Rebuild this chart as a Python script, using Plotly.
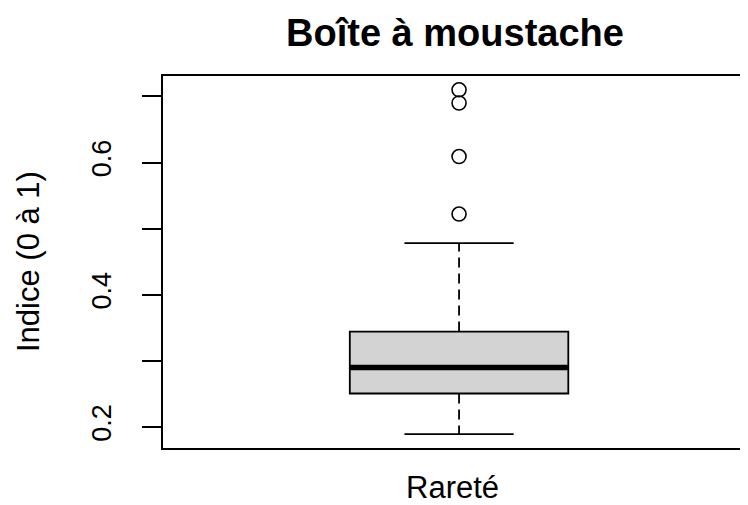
import plotly.graph_objects as go

# ---- data ----
category = "Rareté"
lower_whisker = 0.189
q1 = 0.2506
median = 0.290
q3 = 0.3443
upper_whisker = 0.478
outliers = [0.522, 0.609, 0.690, 0.710]

y_tick_values = [0.2, 0.3, 0.4, 0.5, 0.6, 0.7]
y_tick_labels = ["0.2", "", "0.4", "", "0.6", ""]

title_text = "Boîte à moustache"
y_title = "Indice (0 à 1)"

# ---- styling / layout constants ----
FONT = "Liberation Sans, Arial, sans-serif"
BOX_W = 0.369          # box width in x units (R-like)
CAP_W = BOX_W / 2      # staple width
XPOS = 1
LW = 1.8
OFF = 8                # default page body margin in the browser
W, H = 748 - OFF, 505 - OFF
ML, MT = 163 - OFF, 76 - OFF
MB = H - (448 - OFF)
MR = 0

all_vals = [lower_whisker, upper_whisker] + outliers
ymin, ymax = min(all_vals), max(all_vals)
pad = 0.04 * (ymax - ymin)
yrange = [ymin - pad, ymax + pad]

fig = go.Figure()

# box body
fig.add_trace(go.Box(
    x=[XPOS], q1=[q1], median=[median], q3=[q3],
    lowerfence=[q1], upperfence=[q3],
    width=BOX_W, fillcolor="#D3D3D3",
    line=dict(color="black", width=LW),
    whiskerwidth=0, boxpoints=False, showlegend=False, hoverinfo="skip",
))

# thick median
fig.add_trace(go.Scatter(
    x=[XPOS - BOX_W / 2, XPOS + BOX_W / 2], y=[median, median],
    mode="lines", line=dict(color="black", width=5.5),
    showlegend=False, hoverinfo="skip",
))

# dashed whiskers
for a, b in [(q3, upper_whisker), (q1, lower_whisker)]:
    fig.add_trace(go.Scatter(
        x=[XPOS, XPOS], y=[a, b], mode="lines",
        line=dict(color="black", width=LW, dash="10px,6px"),
        showlegend=False, hoverinfo="skip",
    ))

# staples
for v in [upper_whisker, lower_whisker]:
    fig.add_trace(go.Scatter(
        x=[XPOS - CAP_W / 2, XPOS + CAP_W / 2], y=[v, v], mode="lines",
        line=dict(color="black", width=LW),
        showlegend=False, hoverinfo="skip",
    ))

# outliers
fig.add_trace(go.Scatter(
    x=[XPOS] * len(outliers), y=outliers, mode="markers",
    marker=dict(symbol="circle-open", size=14, color="black", line=dict(width=1.6)),
    showlegend=False, hoverinfo="skip",
))

fig.update_layout(
    width=W, height=H,
    margin=dict(l=ML, r=MR, t=MT, b=MB, autoexpand=False),
    plot_bgcolor="white", paper_bgcolor="white",
    font=dict(family=FONT, color="black"),
    title=dict(text="<b>" + title_text + "</b>", font=dict(size=38, family=FONT, color="black"),
               xref="container", yref="container", x=(455 - OFF) / W, xanchor="center",
               y=1 - (33 - OFF) / H, yanchor="middle"),
    xaxis=dict(range=[0.5, 1.488], showline=True, mirror=True, linecolor="black", linewidth=1.6,
               showgrid=False, zeroline=False, showticklabels=False, ticks=""),
    yaxis=dict(range=yrange, showline=True, mirror=False, linecolor="black", linewidth=1.6,
               showgrid=False, zeroline=False, ticks="outside", ticklen=19, tickwidth=1.6,
               tickcolor="black", tickvals=y_tick_values, ticktext=y_tick_labels,
               tickangle=-90, tickfont=dict(size=27, family=FONT, color="black"),
               ticklabelstandoff=20),
    annotations=[
        dict(text=category, xref="paper", yref="paper", x=0, y=0,
             xshift=452 - 163, yshift=-(487 - 448), xanchor="center", yanchor="middle",
             showarrow=False, font=dict(size=31, family=FONT, color="black")),
        dict(text=y_title, xref="paper", yref="paper", x=0, y=0.5,
             xshift=28 - 163, xanchor="center", yanchor="middle", textangle=-90,
             showarrow=False, font=dict(size=31, family=FONT, color="black")),
    ],
)

fig.write_html("out.html")
